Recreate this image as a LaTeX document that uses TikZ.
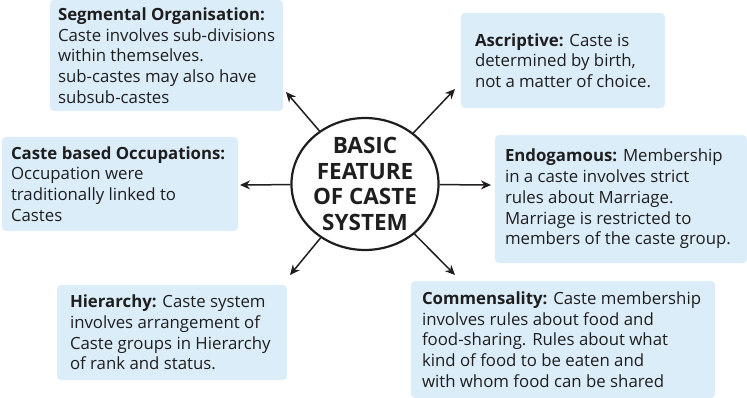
\documentclass[tikz,border=0pt]{standalone}
\usepackage{fontspec}
\setmainfont{Open Sans}
\usetikzlibrary{arrows.meta,shapes.geometric}
\definecolor{boxblue}{RGB}{220,237,250}
\definecolor{ink}{RGB}{30,30,30}
\begin{document}
\begin{tikzpicture}[x=1pt,y=-1pt,
  infobox/.style={fill=boxblue, rounded corners=4pt, align=flush left, inner ysep=0pt,
    text=ink, font=\fontsize{16.8}{20.7}\selectfont},
  conn/.style={line width=1.5pt, -{Stealth[length=10pt,width=9pt]}, ink}]
\useasboundingbox (0,0) rectangle (747,398);
\node[infobox, minimum height=111pt, inner xsep=8pt, text width=217pt] (seg) at (166.5,55.5)
  {\textbf{Segmental Organisation:}\\Caste involves sub-divisions\\within themselves.\\sub-castes may also have\\subsub-castes};
\node[infobox, minimum height=95pt, inner xsep=14pt, text width=176pt] (asc) at (563,60.5)
  {\textbf{Ascriptive:} Caste is\\determined by birth,\\not a matter of choice.};
\node[infobox, minimum height=94pt, inner xsep=9pt, text width=218pt] (occ) at (120,184)
  {\textbf{Caste based Occupations:}\\Occupation were\\traditionally linked to\\Castes};
\node[infobox, minimum height=128pt, inner xsep=10pt, text width=232pt] (endo) at (621,199)
  {\textbf{Endogamous:} Membership\\in a caste involves strict\\rules about Marriage.\\Marriage is restricted to\\members of the caste group.};
\node[infobox, minimum height=95pt, inner xsep=13pt, text width=204pt] (hier) at (172,332.5)
  {\textbf{Hierarchy:} Caste system\\involves arrangement of\\Caste groups in Hierarchy\\of rank and status.};
\node[infobox, minimum height=117pt, inner xsep=11pt, text width=282pt] (comm) at (563,339.5)
  {\textbf{Commensality:} Caste membership\\involves rules about food and\\food-sharing. Rules about what\\kind of food to be eaten and\\with whom food can be shared};
\node[ellipse, draw=ink, line width=2.2pt, minimum width=146pt, minimum height=128pt, inner sep=0pt,
  align=center, text=ink, font=\fontsize{22.5}{25.6}\selectfont\bfseries] (c) at (365,184)
  {BASIC\\FEATURE\\OF CASTE\\SYSTEM};
\coordinate (tseg) at (286,92);
\coordinate (tasc) at (455,89);
\coordinate (tocc) at (240,185);
\coordinate (tendo) at (491,185);
\coordinate (thier) at (290,275);
\coordinate (tcomm) at (455,275);
\draw[conn] (c) -- (tseg);
\draw[conn] (c) -- (tasc);
\draw[conn] (c) -- (tocc);
\draw[conn] (c) -- (tendo);
\draw[conn] (c) -- (thier);
\draw[conn] (c) -- (tcomm);
\end{tikzpicture}
\end{document}
